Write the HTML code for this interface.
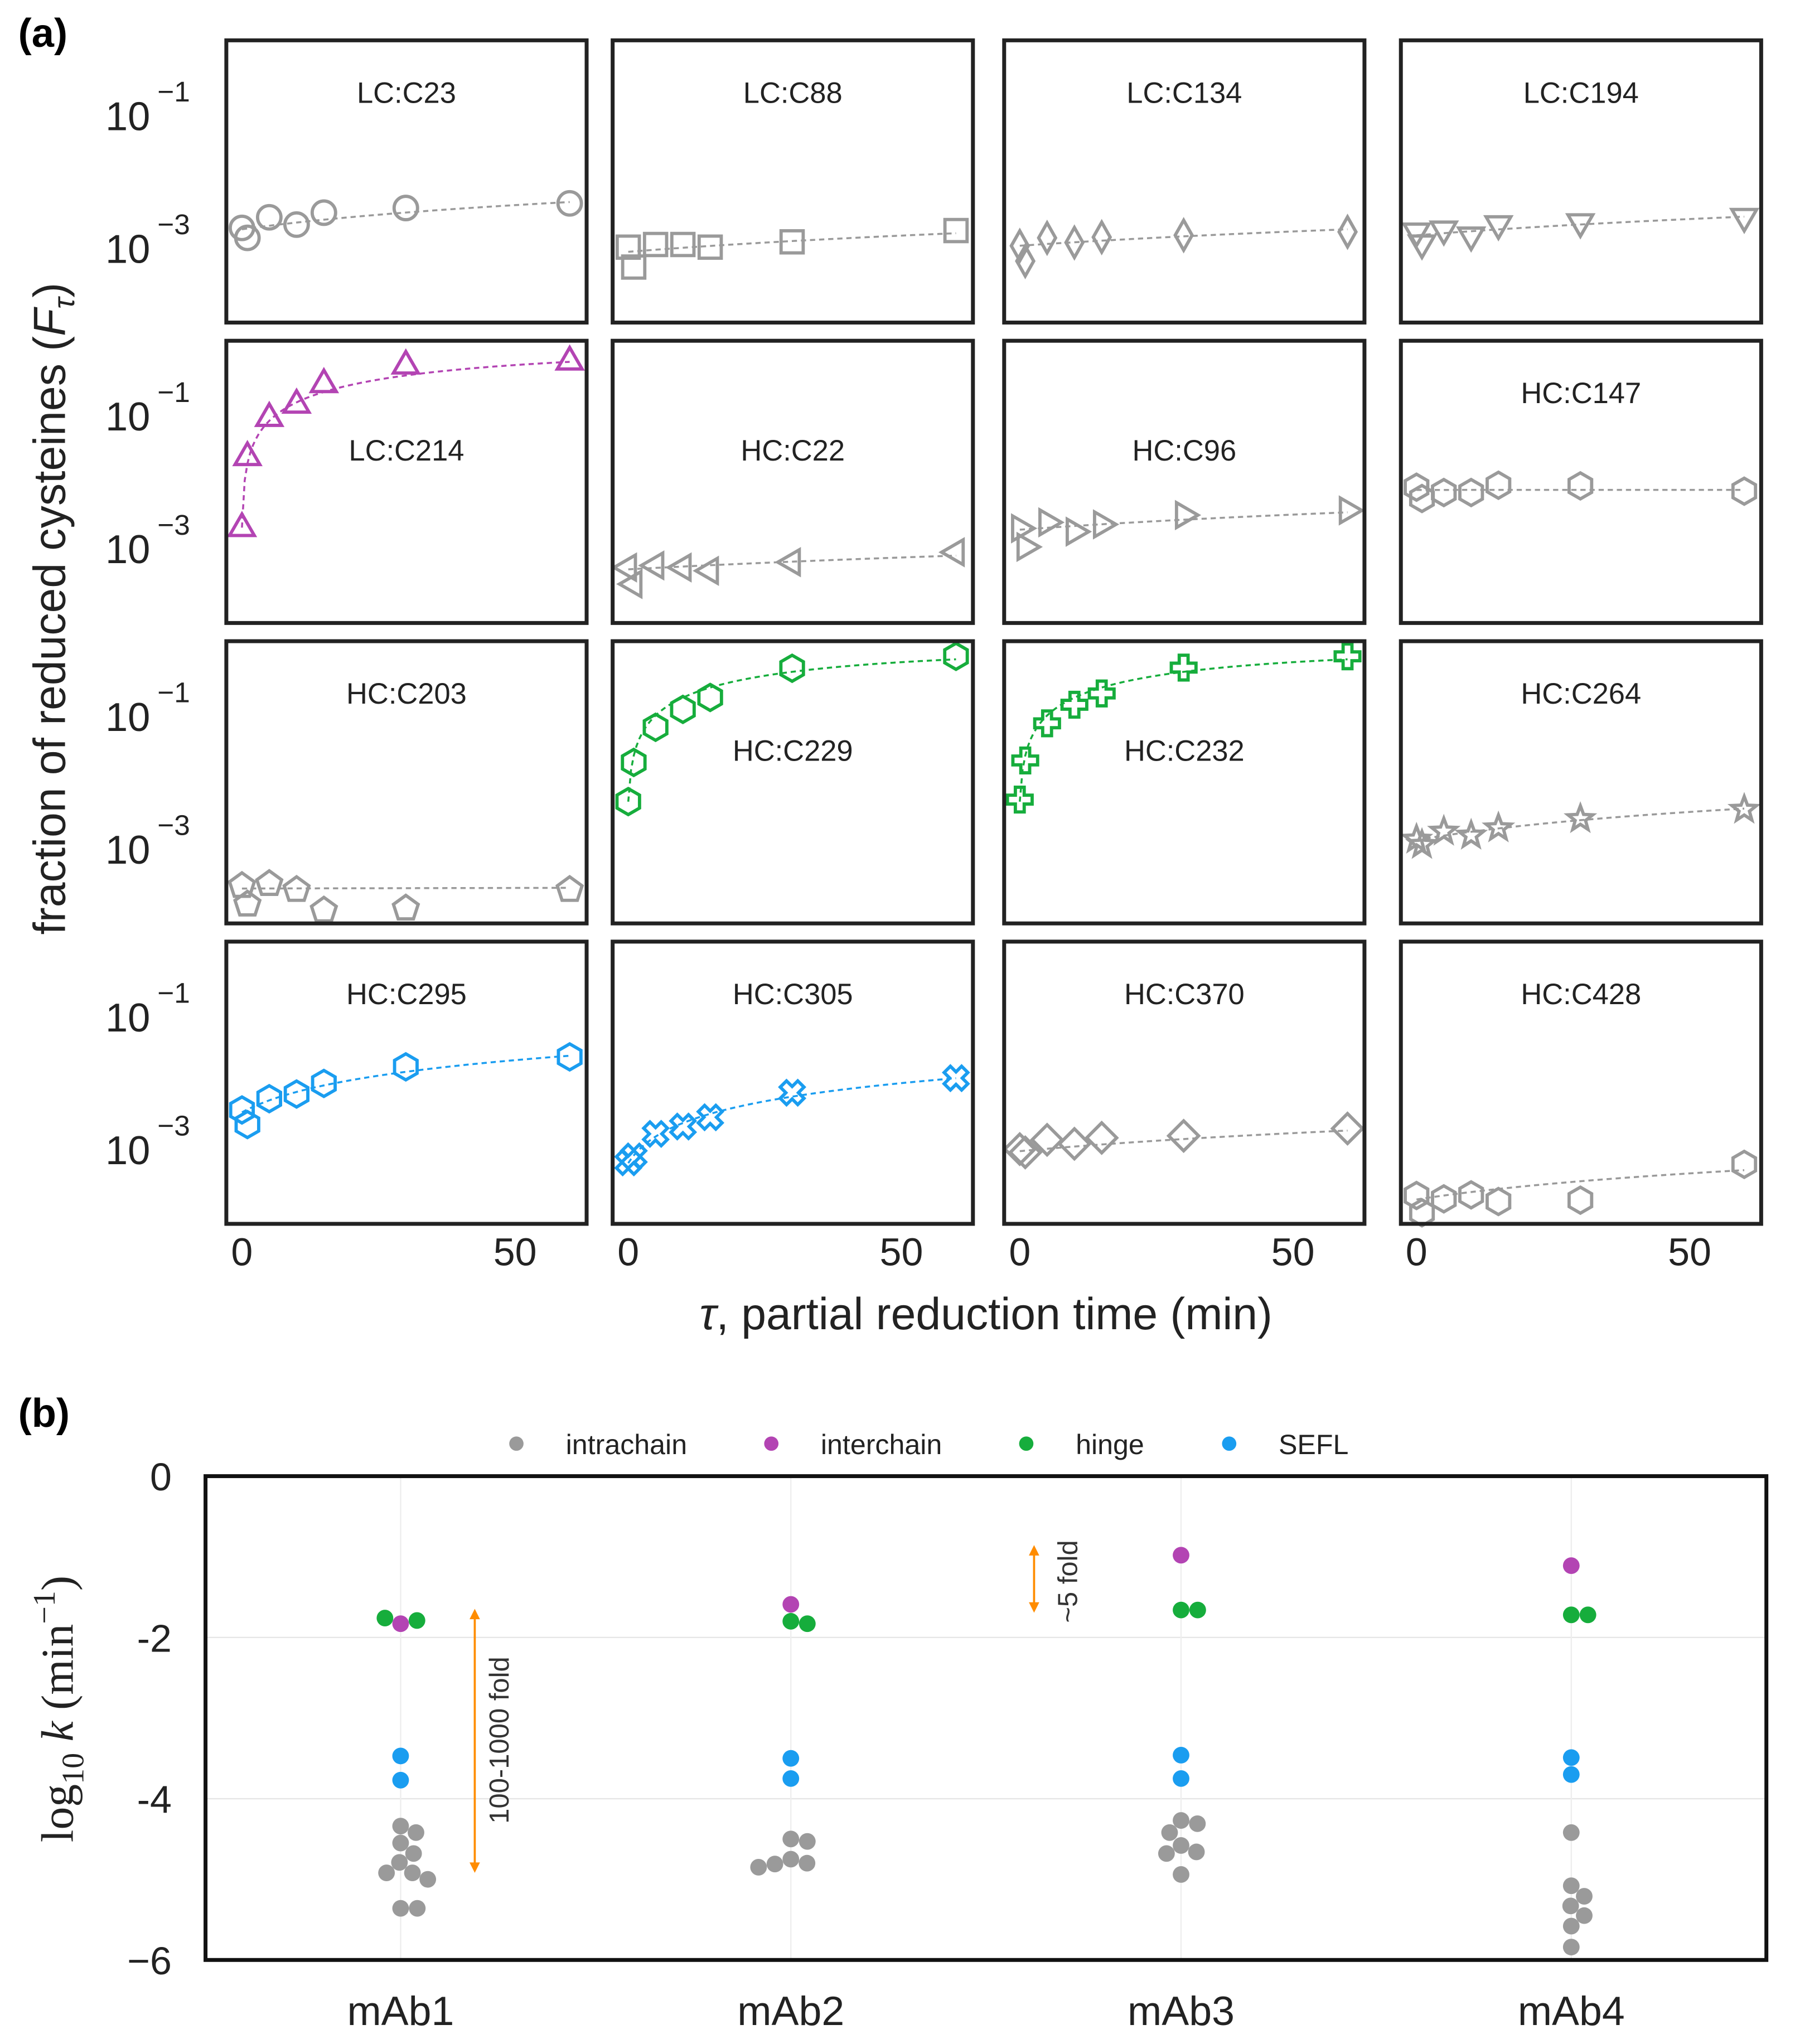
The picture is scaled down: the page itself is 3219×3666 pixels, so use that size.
<!DOCTYPE html>
<html><head><meta charset="utf-8">
<style>
html,body{margin:0;padding:0;background:#fff;}
svg{display:block;}
text{font-family:"Liberation Sans",sans-serif;}
</style></head>
<body>
<svg id="fig" xmlns="http://www.w3.org/2000/svg" width="3219" height="3666" viewBox="0 0 1380 1571.6">
<rect x="0" y="0" width="1380" height="1571.6" fill="#fff"/>
<text x="14" y="36" font-size="31" font-weight="bold">(a)</text>
<text x="14" y="1097" font-size="31" font-weight="bold">(b)</text>
<g id="pa"></g>
<g id="pb"></g>
</svg>
<script>
// ---------- Panel (a) data ----------
const times = [0, 1, 5, 10, 15, 30, 60];
const siteNames = ["LC:C23","LC:C88","LC:C134","LC:C194","LC:C214","HC:C22","HC:C96","HC:C147","HC:C203","HC:C229","HC:C232","HC:C264","HC:C295","HC:C305","HC:C370","HC:C428"];
const siteLog10F = [
  [-2.71,-2.86,-2.55,-2.66,-2.48,-2.41,-2.34],
  [-3.00,-3.30,-2.96,-2.96,-3.00,-2.92,-2.75],
  [-2.98,-3.21,-2.86,-2.93,-2.85,-2.82,-2.77],
  [-2.76,-2.94,-2.73,-2.82,-2.65,-2.62,-2.54],
  [-2.71,-1.64,-1.05,-0.85,-0.54,-0.26,-0.20],
  [-3.30,-3.55,-3.27,-3.30,-3.35,-3.22,-3.07],
  [-2.71,-2.99,-2.62,-2.76,-2.65,-2.51,-2.44],
  [-2.09,-2.26,-2.17,-2.17,-2.06,-2.07,-2.15],
  [-3.57,-3.85,-3.54,-3.63,-3.94,-3.91,-3.63],
  [-2.30,-1.71,-1.18,-0.91,-0.73,-0.29,-0.11],
  [-2.27,-1.68,-1.12,-0.84,-0.67,-0.28,-0.11],
  [-2.87,-2.95,-2.75,-2.81,-2.70,-2.56,-2.42],
  [-2.42,-2.64,-2.25,-2.18,-2.02,-1.77,-1.62],
  [-3.21,-3.12,-2.78,-2.67,-2.53,-2.16,-1.94],
  [-3.01,-3.06,-2.87,-2.93,-2.84,-2.81,-2.70],
  [-3.71,-3.97,-3.76,-3.70,-3.80,-3.78,-3.24]
];
const fitF0 = [1.86e-3,8.5e-4,1.05e-3,1.51e-3,2e-3,4.7e-4,1.86e-3,7.4e-3,2.45e-4,5e-3,5e-3,1.32e-3,3.5e-3,6e-4,9.1e-4,1.7e-4];
const fitLog10k = [-4.31,-4.89,-4.87,-4.64,-1.78,-5.32,-4.59,-7,-7,-1.7,-1.7,-4.36,-3.44,-3.74,-4.8,-5.3];
const siteClass = ["gray","gray","gray","gray","purple","gray","gray","gray","gray","green","green","gray","blue","blue","gray","gray"];
const siteMarker = ["circle","square","thindiamond","tridown","triup","trileft","triright","hexagon","pentagon","hexagon","plus","star","hexagon","xmark","diamond","hexagon"];
const siteLabelLow = [false,false,false,false,true,true,true,false,false,true,true,false,false,false,false,false];
const xTicks = [0, 50];
const yTickExps = [-1, -3];

const colors = {gray:"#9a9a9a", purple:"#b344b3", green:"#16ad3c", blue:"#1a9df0"};
const NS = "http://www.w3.org/2000/svg";
function mk(tag, attrs, parent){ const e=document.createElementNS(NS,tag); for(const k in attrs) e.setAttribute(k,attrs[k]); if(parent) parent.appendChild(e); return e; }

const colX = [174, 471, 772, 1077];
const rowY = [31, 262, 493, 724];
const PW = 277, PH = 217;
const xDom = [-2.86, 63.1];
const yTopLog = 0.118, decadePx = 51;

function markerEl(type, cx, cy, col, parent){
  const r = 10; let e;
  const poly = (pts)=> mk("polygon",{points:pts.map(p=>(cx+p[0]).toFixed(2)+","+(cy+p[1]).toFixed(2)).join(" ")},parent);
  const reg = (n, rot, rr)=>{ const p=[]; for(let i=0;i<n;i++){const a=(rot+360*i/n)*Math.PI/180; p.push([rr*Math.cos(a), rr*Math.sin(a)]);} return p; };
  if(type==="circle") e = mk("circle",{cx:cx,cy:cy,r:9},parent);
  else if(type==="square") e = mk("rect",{x:cx-8.5,y:cy-8.5,width:17,height:17},parent);
  else if(type==="thindiamond") e = poly([[0,-11.5],[6.5,0],[0,11.5],[-6.5,0]]);
  else if(type==="diamond") e = poly([[0,-11.5],[11.5,0],[0,11.5],[-11.5,0]]);
  else if(type==="triup") e = poly(reg(3,-90,r+1));
  else if(type==="tridown") e = poly(reg(3,90,r+1));
  else if(type==="trileft") e = poly(reg(3,180,r+1));
  else if(type==="triright") e = poly(reg(3,0,r+1));
  else if(type==="hexagon") e = poly(reg(6,-90,r));
  else if(type==="pentagon") e = poly(reg(5,-90,r));
  else if(type==="star"){ const p=[]; for(let i=0;i<10;i++){const a=(-90+36*i)*Math.PI/180; const rr=i%2?4.2:r; p.push([rr*Math.cos(a),rr*Math.sin(a)]);} e=poly(p); }
  else if(type==="plus"){ const a=3.4,b=9.5; e=poly([[-a,-b],[a,-b],[a,-a],[b,-a],[b,a],[a,a],[a,b],[-a,b],[-a,a],[-b,a],[-b,-a],[-a,-a]]); }
  else if(type==="xmark"){ const p=[]; const a=3.4,b=9.5; const base=[[-a,-b],[a,-b],[a,-a],[b,-a],[b,a],[a,a],[a,b],[-a,b],[-a,a],[-b,a],[-b,-a],[-a,-a]]; const c=Math.SQRT1_2; base.forEach(q=>p.push([(q[0]-q[1])*c,(q[0]+q[1])*c])); e=poly(p); }
  e.setAttribute("fill","none"); e.setAttribute("stroke",col); e.setAttribute("stroke-width","2.5");
  return e;
}

const pa = document.getElementById("pa");
for(let i=0;i<siteNames.length;i++){
  const c=i%4, r=Math.floor(i/4);
  const x0=colX[c], y0=rowY[r];
  const sx = t => x0 + (t - xDom[0])/(xDom[1]-xDom[0])*PW;
  const sy = lg => y0 + (yTopLog - lg)*decadePx;
  const g = mk("g",{},pa);
  
  
  const col = colors[siteClass[i]];
  const clipId = "clip"+i;
  const cp = mk("clipPath",{id:clipId},g); mk("rect",{x:x0,y:y0,width:PW,height:PH},cp);
  let d="";
  for(let s=0;s<=120;s++){ const t=s*0.5; const k=Math.pow(10,fitLog10k[i]); const F=fitF0[i]+(1-fitF0[i])*(1-Math.exp(-k*t)); d+=(s?"L":"M")+sx(t).toFixed(2)+","+sy(Math.log10(F)).toFixed(2); }
  const fit = mk("path",{d:d,fill:"none",stroke:col,"stroke-width":"1.5","stroke-dasharray":"4 3","clip-path":"url(#"+clipId+")"},g);
  
  
  for(let j=0;j<times.length;j++){
    const m = markerEl(siteMarker[i], sx(times[j]), sy(siteLog10F[i][j]), col, g);
    
    
  }
  const fr = mk("rect",{x:x0,y:y0,width:PW,height:PH,fill:"none",stroke:"#222","stroke-width":"3"},g);
  
  
  const tt = mk("text",{x:x0+PW/2,y:y0+(siteLabelLow[i]?84:40)+8,"font-size":"22.5","text-anchor":"middle",fill:"#222"},g);
  tt.textContent = siteNames[i];
  
  
  if(c===0){
    yTickExps.forEach(ex=>{
      const yy = sy(ex);
      const tl = mk("text",{x:81,y:yy+12,"font-size":"31",fill:"#222"},pa);
      tl.textContent="10";
      
      
      const sp = mk("text",{x:121,y:yy-10,"font-size":"22",fill:"#222"},pa);
      sp.textContent="\u2212"+Math.abs(ex);
      
      
    });
  }
  if(r===3){
    xTicks.forEach(v=>{
      const tl = mk("text",{x:sx(v),y:973,"font-size":"30","text-anchor":"middle",fill:"#222"},pa);
      tl.textContent=String(v);
      
      
    });
  }
}
const xl = mk("text",{x:758,y:1022,"font-size":"34.5","text-anchor":"middle",fill:"#222"},pa);
xl.innerHTML = '<tspan font-style="italic">\u03C4</tspan>, partial reduction time (min)';


const yl = mk("text",{x:0,y:0,"font-size":"34.5","text-anchor":"middle",fill:"#222",transform:"translate(50,468) rotate(-90)"},pa);
yl.innerHTML = 'fraction of reduced cysteines (<tspan font-style="italic">F</tspan><tspan font-style="italic" font-size="23" dy="7">\u03C4</tspan><tspan dy="-7">)</tspan>';



// ---------- Panel (b) data ----------
const mAbs = ["mAb1","mAb2","mAb3","mAb4"];
const classNames = ["intrachain","interchain","hinge","SEFL"];
const intraK = [
  [-4.34,-4.42,-4.55,-4.68,-4.79,-4.92,-4.92,-5.0,-5.36,-5.36],
  [-4.50,-4.53,-4.75,-4.80,-4.81,-4.85],
  [-4.27,-4.31,-4.42,-4.58,-4.66,-4.68,-4.94],
  [-4.42,-5.08,-5.21,-5.33,-5.45,-5.58,-5.84]
];
const interK = [[-1.83],[-1.59],[-0.98],[-1.11]];
const hingeK = [[-1.79,-1.76],[-1.80,-1.83],[-1.66,-1.66],[-1.72,-1.72]];
const seflK = [[-3.47,-3.77],[-3.50,-3.75],[-3.46,-3.75],[-3.49,-3.70]];
const bYTicks = [0,-2,-4,-6];
const bYTickLabels = ["0","-2","-4","\u22126"];

const pb = document.getElementById("pb");
const BX0=158, BX1=1358, BY0=1135, BY1=1507;
const bx = i => 308 + i*300;
const by = v => BY0 + (0 - v)/6*(BY1-BY0);
const classCols = [colors.gray, colors.purple, colors.green, colors.blue];
[-2,-4].forEach(v=>{ const l=mk("line",{x1:BX0,x2:BX1,y1:by(v),y2:by(v),stroke:"#e6e6e6","stroke-width":"1"},pb);   });
mAbs.forEach((m,i)=>{ const l=mk("line",{x1:bx(i),x2:bx(i),y1:BY0,y2:BY1,stroke:"#eeeeee","stroke-width":"1"},pb);   });
const R=6.4;
mAbs.forEach((m,i)=>{
  const pts=[];
  interK[i].forEach(v=>pts.push({v:v,c:1}));
  hingeK[i].forEach(v=>pts.push({v:v,c:2}));
  seflK[i].forEach(v=>pts.push({v:v,c:3}));
  intraK[i].forEach(v=>pts.push({v:v,c:0}));
  const placed=[];
  pts.forEach(p=>{
    const y=by(p.v);
    const cands=[0];
    placed.forEach(q=>{ const dy=Math.abs(q.y-y); if(dy<2*R){ const dx=Math.sqrt(4*R*R-dy*dy)+0.01; cands.push(q.x+dx,q.x-dx);} });
    cands.sort((a,b)=>Math.abs(a)-Math.abs(b));
    let xo=0;
    for(const cx of cands){ if(placed.every(q=>Math.hypot(q.x-cx,q.y-y)>=2*R-0.02)){xo=cx;break;} }
    placed.push({x:xo,y:y});
    const d=mk("circle",{cx:bx(i)+xo,cy:y,r:R,fill:classCols[p.c]},pb);
    
    
  });
  const t=mk("text",{x:bx(i),y:1557,"font-size":"31.5","text-anchor":"middle",fill:"#222"},pb);
  t.textContent=m;
  
  
});
bYTicks.forEach((v,k)=>{
  const t=mk("text",{x:132,y:by(v)+11,"font-size":"30","text-anchor":"end",fill:"#222"},pb);
  t.textContent=bYTickLabels[k];
  
  
});
const bf=mk("rect",{x:BX0,y:BY0,width:BX1-BX0,height:BY1-BY0,fill:"none",stroke:"#111","stroke-width":"3"},pb);


const legX=[397,593,789,945];
classNames.forEach((n,k)=>{
  const g=mk("g",{},pb);
  
  
  mk("circle",{cx:legX[k],cy:1110,r:5.5,fill:classCols[k]},g);
  const t=mk("text",{x:legX[k]+38,y:1118,"font-size":"21.5",fill:"#222"},g);
  t.textContent=n;
});
function arrow(x,y1,y2,name){
  const g=mk("g",{},pb);
  
  
  mk("line",{x1:x,x2:x,y1:y1+6,y2:y2-6,stroke:"#ff8c00","stroke-width":"1.6"},g);
  mk("polygon",{points:`${x},${y1} ${x-4},${y1+8} ${x+4},${y1+8}`,fill:"#ff8c00"},g);
  mk("polygon",{points:`${x},${y2} ${x-4},${y2-8} ${x+4},${y2-8}`,fill:"#ff8c00"},g);
}
arrow(365,1237,1440,'fold-arrow-100-1000');
arrow(795,1188,1240,'fold-arrow-5');
const a1=mk("text",{x:0,y:0,"font-size":"21","text-anchor":"middle",fill:"#333",transform:"translate(391,1338) rotate(-90)"},pb);
a1.textContent="100-1000 fold";


const a2=mk("text",{x:0,y:0,"font-size":"21","text-anchor":"middle",fill:"#333",transform:"translate(828,1216) rotate(-90)"},pb);
a2.textContent="~5 fold";


const byl=mk("text",{x:0,y:0,"font-size":"35","text-anchor":"middle",fill:"#222",transform:"translate(56,1314) rotate(-90)"},pb);
byl.innerHTML='log<tspan font-size="24" dy="8">10</tspan><tspan dy="-8" font-style="italic"> k</tspan> (min<tspan font-size="24" dy="-14">\u22121</tspan><tspan dy="14">)</tspan>';
byl.style.fontFamily='"Liberation Serif", serif';


</script>
</body></html>
